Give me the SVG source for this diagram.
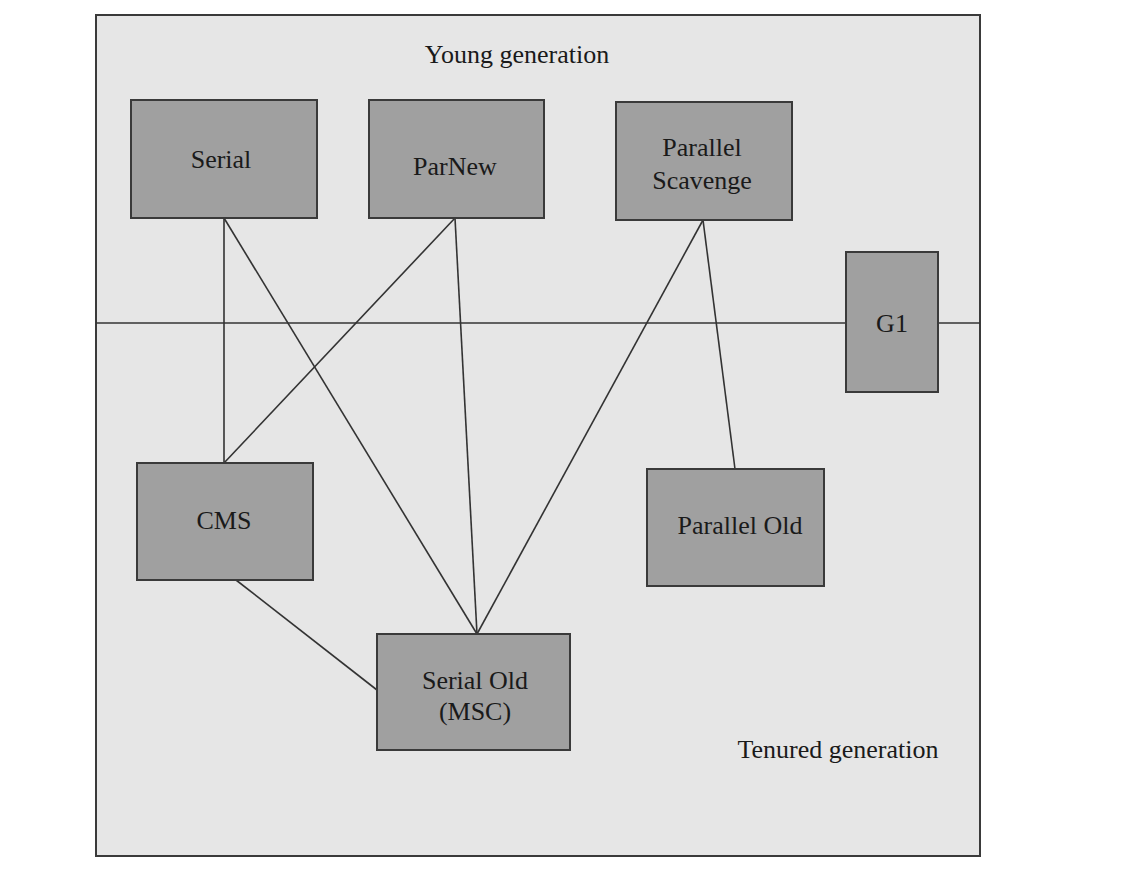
<svg xmlns="http://www.w3.org/2000/svg" width="1124" height="874" viewBox="0 0 1124 874">
<style>
.frame{fill:#e6e6e6;stroke:#3a3a3a;stroke-width:2}
.box{fill:#a0a0a0;stroke:#3a3a3a;stroke-width:2}
.ln{stroke:#333;stroke-width:1.6;fill:none}
.t{font-family:"Liberation Serif","Times New Roman",serif;font-size:26px;fill:#1a1a1a;text-anchor:middle}
</style>
<rect width="1124" height="874" fill="#ffffff"/>
<rect class="frame" x="96" y="15" width="884" height="841"/>
<g id="connectors">
<line class="ln" x1="96" y1="323" x2="980" y2="323"/>
<line class="ln" x1="224" y1="218" x2="224" y2="463"/>
<line class="ln" x1="224" y1="218" x2="477" y2="634"/>
<line class="ln" x1="455" y1="218" x2="224" y2="463"/>
<line class="ln" x1="455" y1="218" x2="477" y2="634"/>
<line class="ln" x1="703" y1="220" x2="477" y2="634"/>
<line class="ln" x1="703" y1="220" x2="735" y2="469"/>
<line class="ln" x1="236" y1="580" x2="377" y2="690"/>
</g>
<text class="t" x="517" y="63">Young generation</text>
<text class="t" x="838" y="758">Tenured generation</text>
<g id="serial"><rect class="box" x="131" y="100" width="186" height="118"/><text class="t" x="221" y="168">Serial</text></g>
<g id="parnew"><rect class="box" x="369" y="100" width="175" height="118"/><text class="t" x="455" y="175">ParNew</text></g>
<g id="parallel-scavenge"><rect class="box" x="616" y="102" width="176" height="118"/><text class="t" x="702" y="156">Parallel</text><text class="t" x="702" y="189">Scavenge</text></g>
<g id="g1"><rect class="box" x="846" y="252" width="92" height="140"/><text class="t" x="892" y="332">G1</text></g>
<g id="cms"><rect class="box" x="137" y="463" width="176" height="117"/><text class="t" x="224" y="529">CMS</text></g>
<g id="parallel-old"><rect class="box" x="647" y="469" width="177" height="117"/><text class="t" x="740" y="534">Parallel Old</text></g>
<g id="serial-old"><rect class="box" x="377" y="634" width="193" height="116"/><text class="t" x="475" y="689">Serial Old</text><text class="t" x="475" y="720">(MSC)</text></g>
</svg>
